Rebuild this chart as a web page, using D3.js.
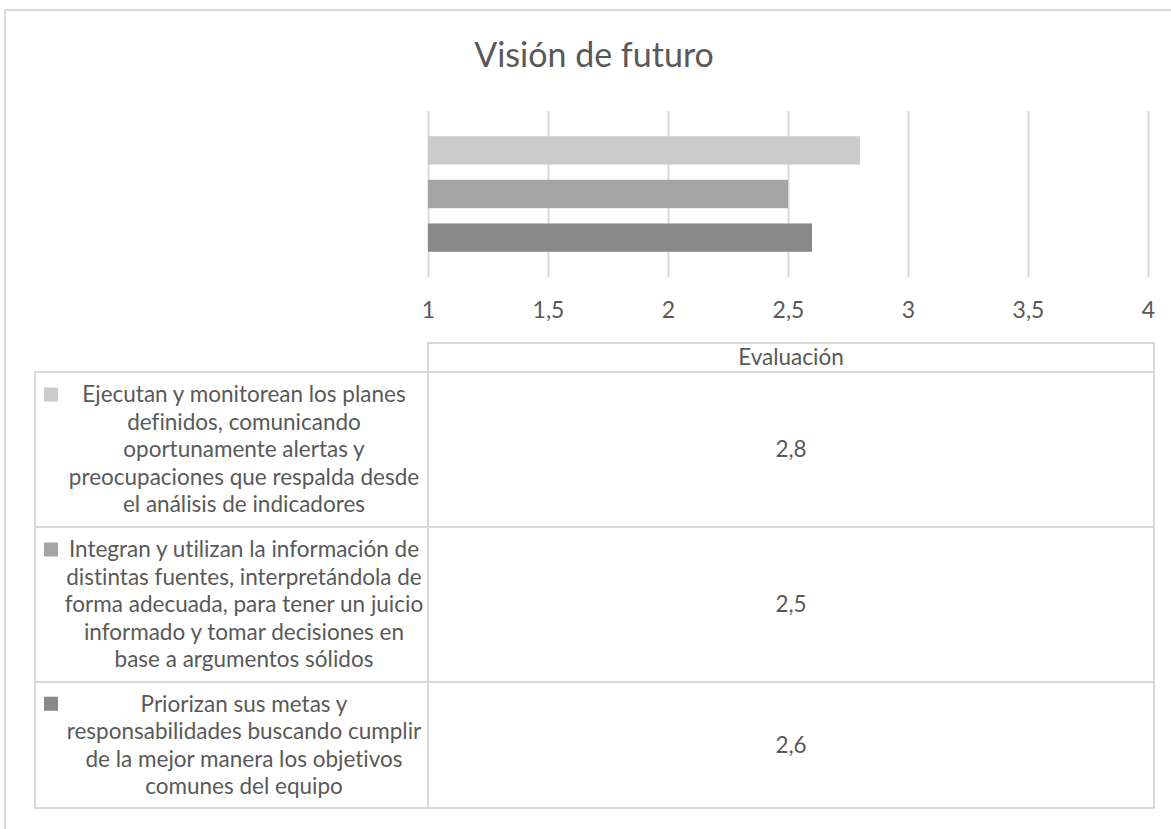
<!DOCTYPE html>
<html>
<head>
    <meta charset='utf-8'>
    <title>Visión de futuro</title>
    <script src='https://d3js.org/d3.v7.min.js'></script>
    <style>
        body { margin: 0; background: #fff; }
        text { font-family: Lato, 'Open Sans', sans-serif; fill: #595959; font-variant-ligatures: none; }
    </style>
</head>
<body>
<div id='chart'></div>
<script type='text/javascript'>
    // datos
    const title = 'Visión de futuro';
    const header = 'Evaluación';
    const series = [
        ['Ejecutan y monitorean los planes', 'definidos, comunicando', 'oportunamente alertas y', 'preocupaciones que respalda desde', 'el análisis de indicadores'],
        ['Integran y utilizan la información de', 'distintas fuentes, interpretándola de', 'forma adecuada, para tener un juicio', 'informado y tomar decisiones en', 'base a argumentos sólidos'],
        ['Priorizan sus metas y', 'responsabilidades buscando cumplir', 'de la mejor manera los objetivos', 'comunes del equipo']
    ];
    const values = [2.8, 2.5, 2.6];
    const xTicks = [1, 1.5, 2, 2.5, 3, 3.5, 4];
    const colors = ['#cbcbcb', '#a5a5a5', '#898989'];

    const W = 1171, H = 829;
    const grid = '#d9d9d9';
    const fs = '22.5px';

    const locale = d3.formatLocale({decimal: ',', thousands: '.', grouping: [3], currency: ['', '']});
    const fmtTick = locale.format('~g');
    const fmtVal = locale.format('.1f');

    let svg = d3.select('#chart')
            .append('svg')
                .attr('width', W)
                .attr('height', H);

    // marco exterior
    svg.append('rect')
       .attr('x', 5).attr('y', 10)
       .attr('width', 1185).attr('height', 840)
       .attr('fill', 'none')
       .attr('stroke', grid)
       .attr('stroke-width', 2);

    // titulo
    svg.append('text')
       .attr('x', 594).attr('y', 67)
       .attr('text-anchor', 'middle')
       .attr('font-size', '34px')
       .text(title);

    // area del grafico
    let plot = {left: 428, right: 1148, top: 111, bottom: 277};

    let xScale = d3.scaleLinear()
                   .domain([1, 4])
                   .range([plot.left, plot.right]);

    let yScale = d3.scaleBand()
                   .domain(d3.range(series.length))
                   .range([plot.top, plot.bottom])
                   .paddingInner(0.35)
                   .paddingOuter(0.578);

    // lineas de cuadricula
    let gridAxis = d3.axisBottom(xScale)
                     .tickValues(xTicks)
                     .tickSize(-(plot.bottom - plot.top))
                     .tickFormat('');

    let g = svg.append('g')
       .attr('transform', `translate(0,${plot.bottom})`)
       .call(gridAxis);
    g.select('.domain').remove();
    g.selectAll('line').attr('stroke', grid).attr('stroke-width', 2);

    // barras
    svg.selectAll('rect.bar')
       .data(values)
       .enter()
       .append('rect')
       .attr('class', 'bar')
       .attr('x', xScale(1))
       .attr('y', (d, i) => yScale(i))
       .attr('width', (d) => xScale(d) - xScale(1))
       .attr('height', yScale.bandwidth())
       .attr('fill', (d, i) => colors[i]);

    // etiquetas del eje X
    let xAxis = d3.axisBottom(xScale)
                  .tickValues(xTicks)
                  .tickSize(0)
                  .tickPadding(0)
                  .tickFormat(fmtTick);

    let ax = svg.append('g')
       .attr('transform', `translate(0,302)`)
       .call(xAxis);
    ax.select('.domain').remove();
    ax.selectAll('text')
      .attr('font-size', '23px')
      .attr('font-family', null)
      .attr('fill', '#595959')
      .attr('dy', '0.71em')
      .attr('y', 0);

    // tabla de datos
    let table = {left: 35, mid: 428, right: 1154, headTop: 343, headBottom: 372};
    let rowBounds = [372, 527, 682, 808];
    let lineH = 27.5;

    svg.append('rect')
       .attr('x', table.mid).attr('y', table.headTop)
       .attr('width', table.right - table.mid)
       .attr('height', table.headBottom - table.headTop)
       .attr('fill', 'none')
       .attr('stroke', grid)
       .attr('stroke-width', 2);

    svg.append('text')
       .attr('x', (table.mid + table.right) / 2)
       .attr('y', (table.headTop + table.headBottom) / 2)
       .attr('dy', '0.35em')
       .attr('text-anchor', 'middle')
       .attr('font-size', fs)
       .text(header);

    let rows = svg.selectAll('g.row')
       .data(series)
       .enter()
       .append('g')
       .attr('class', 'row');

    rows.append('rect')
        .attr('x', table.left)
        .attr('y', (d, i) => rowBounds[i])
        .attr('width', table.mid - table.left)
        .attr('height', (d, i) => rowBounds[i + 1] - rowBounds[i])
        .attr('fill', 'none')
        .attr('stroke', grid)
        .attr('stroke-width', 2);

    rows.append('rect')
        .attr('x', table.mid)
        .attr('y', (d, i) => rowBounds[i])
        .attr('width', table.right - table.mid)
        .attr('height', (d, i) => rowBounds[i + 1] - rowBounds[i])
        .attr('fill', 'none')
        .attr('stroke', grid)
        .attr('stroke-width', 2);

    // clave de la leyenda
    rows.append('rect')
        .attr('x', 44)
        .attr('y', (d, i) => {
            let c = (rowBounds[i] + rowBounds[i + 1]) / 2;
            return c - (d.length - 1) * lineH / 2 - 7;
        })
        .attr('width', 14)
        .attr('height', 14)
        .attr('fill', (d, i) => colors[i]);

    // texto de la serie
    rows.each(function (d, i) {
        let c = (rowBounds[i] + rowBounds[i + 1]) / 2;
        let t = d3.select(this).append('text')
                  .attr('text-anchor', 'middle')
                  .attr('font-size', fs);
        d.forEach((line, k) => {
            t.append('tspan')
             .attr('x', 244)
             .attr('y', c + (k - (d.length - 1) / 2) * lineH)
             .attr('dy', '0.35em')
             .text(line);
        });
    });

    // valores
    rows.append('text')
        .attr('x', (table.mid + table.right) / 2)
        .attr('y', (d, i) => (rowBounds[i] + rowBounds[i + 1]) / 2)
        .attr('dy', '0.35em')
        .attr('text-anchor', 'middle')
        .attr('font-size', fs)
        .text((d, i) => fmtVal(values[i]));
</script>
</body>
</html>
